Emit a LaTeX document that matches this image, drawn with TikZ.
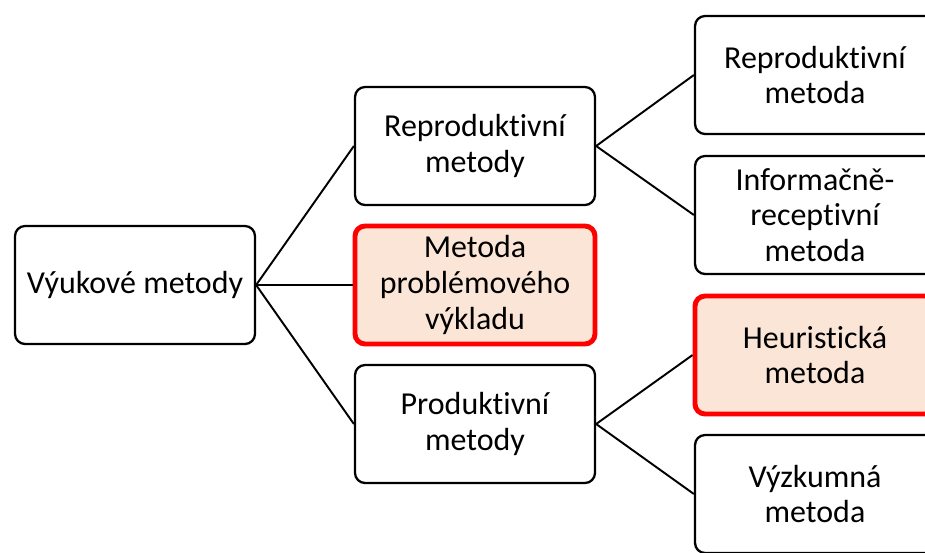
\documentclass[tikz,border=0pt]{standalone}
\usepackage{fontspec}
\setmainfont[RawFeature={-liga;-clig;-calt;-rlig;-dlig}]{Carlito}
\usepackage{xcolor}
\usetikzlibrary{positioning}
\definecolor{accent}{RGB}{255,0,0}
\definecolor{peach}{RGB}{251,229,214}

\begin{document}
\begin{tikzpicture}[x=0.02cm, y=-0.02cm,
    font=\fontsize{18.2}{20.3}\selectfont,
    box/.style={rectangle, rounded corners=0.2cm, draw=black, line width=1.3pt,
      fill=white, minimum width=4.8cm, minimum height=2.36cm,
      align=center, inner sep=2pt},
    hot/.style={box, draw=accent, fill=peach, line width=2.8pt},
    link/.style={draw=black, line width=1.1pt}]
  \useasboundingbox (0,0) rectangle (925,552);
  % root
  \node[box] (root) at (135,285) {Výukové metody};
  % middle column
  \node[box] (repro) at (475,146) {Reproduktivní\\metody};
  \node[hot] (probl) at (475,285) {Metoda\\problémového\\výkladu};
  \node[box] (produ) at (475,424) {Produktivní\\metody};
  % right column
  \node[box] (rmeth) at (815,75) {Reproduktivní\\metoda};
  \node[box] (irmeth) at (815,215) {Informačně-\\receptivní\\metoda};
  \node[hot] (heur) at (815,355) {Heuristická\\metoda};
  \node[box] (vyzk) at (815,494) {Výzkumná\\metoda};
  % connectors
  \draw[link] (root.east) -- (repro.west);
  \draw[link] (root.east) -- (probl.west);
  \draw[link] (root.east) -- (produ.west);
  \draw[link] (repro.east) -- (rmeth.west);
  \draw[link] (repro.east) -- (irmeth.west);
  \draw[link] (produ.east) -- (heur.west);
  \draw[link] (produ.east) -- (vyzk.west);
\end{tikzpicture}
\end{document}
